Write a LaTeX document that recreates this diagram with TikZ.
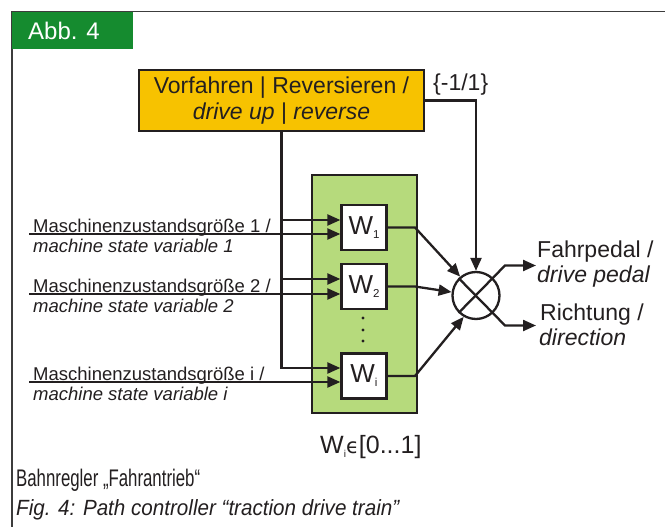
\documentclass[tikz,border=0pt]{standalone}
\usepackage{fontspec}
\setmainfont{Liberation Sans}
\newfontfamily\djv{DejaVu Sans}
\usetikzlibrary{arrows.meta}
\definecolor{abbgreen}{RGB}{21,139,47}
\definecolor{boxorange}{RGB}{247,194,0}
\definecolor{boxgreen}{RGB}{182,218,124}
\definecolor{ink}{RGB}{35,31,32}
\definecolor{framegray}{RGB}{60,60,60}
\newcommand{\fsz}[1]{\fontsize{#1}{#1}\selectfont}
\begin{document}
\begin{tikzpicture}[x=1pt,y=-1pt,
  conn/.style={draw=ink, line width=2.3pt},
  arr/.style={conn, -{Triangle[length=13pt,width=11pt]}},
  wbox/.style={draw=ink, fill=white, line width=2.3pt, minimum width=45pt, minimum height=45pt, inner sep=0pt, font=\fsz{26}, text=ink},
  lbl/.style={anchor=base west, inner sep=0pt, font=\fsz{18.5}, text=ink},
  outlbl/.style={anchor=base west, inner sep=0pt, font=\fsz{23}, text=ink},
  captxt/.style={anchor=base west, inner sep=0pt, text=ink},
]
\useasboundingbox (0,0) rectangle (665,527);
\fill[white] (0,0) rectangle (665,527);
% frame
\draw[framegray, line width=1.3pt] (12,527) -- (12,11.7) -- (665,11.7);
\fill[abbgreen] (12,11.7) rectangle (133,49);
\node[anchor=base west, inner sep=0pt, font=\fsz{24}, text=white] (abb) at (28,40) {Abb. 4};

% direction box
\node[draw=ink, fill=boxorange, line width=2.3pt, minimum width=285pt, minimum height=61pt,
      align=center, inner sep=0pt, font=\fontsize{23}{26}\selectfont, text=ink] (dir) at (281.5,100.5)
      {Vorfahren | Reversieren /\\ \textit{drive up} | \textit{reverse}};
\node[anchor=base west, inner sep=0pt, font=\fsz{23}, text=ink] (sgn) at (433,91) {\{-1/1\}};

% weight block
\node[draw=ink, fill=boxgreen, line width=2.3pt, minimum width=105pt, minimum height=238pt, inner sep=0pt] (gbox) at (364.5,294) {};
\node[wbox] (w1) at (364,227.5) {\raisebox{2pt}{W}\raisebox{-2pt}{\fsz{11.5}1}};
\node[wbox] (w2) at (364,286.5) {\raisebox{2pt}{W}\raisebox{-2pt}{\fsz{11.5}2}};
\node[wbox] (wi) at (364,376) {\raisebox{2pt}{W}\raisebox{-2pt}{\fsz{11.5}i}};
\foreach \yy in {318,330,341} \fill[ink] (363,\yy) circle (1.6pt);

% summing junction
\node[circle, draw=ink, line width=2.3pt, minimum size=47pt, inner sep=0pt] (sum) at (476,295.5) {};

% inputs
\coordinate (in1) at (29,234);
\coordinate (in2) at (29,294);
\coordinate (ini) at (29,382);
\draw[arr] (in1) -- (in1 -| w1.west);
\draw[arr] (in2) -- (in2 -| w2.west);
\draw[arr] (ini) -- (ini -| wi.west);
\node[lbl] (l1a) at (33,232) {Maschinenzustandsgröße 1 /};
\node[lbl] (l1b) at (33,252) {\itshape machine state variable 1};
\node[lbl] (l2a) at (33,292) {Maschinenzustandsgröße 2 /};
\node[lbl] (l2b) at (33,312) {\itshape machine state variable 2};
\node[lbl] (lia) at (33,380) {Maschinenzustandsgröße i /};
\node[lbl] (lib) at (33,400) {\itshape machine state variable i};

% direction branches
\coordinate (corner) at (281.5,368);
\coordinate (b1) at (281.5,220);
\coordinate (b2) at (281.5,279);
\draw[arr] (dir.south) -- (corner) -- (corner -| wi.west);
\draw[arr] (b1) -- (b1 -| w1.west);
\draw[arr] (b2) -- (b2 -| w2.west);
\draw[arr] (dir.east) -- (dir.east -| sum.north) -- (sum.north);

% weight outputs
\coordinate (m1) at (415,227.5);
\coordinate (m2) at (415,286.5);
\coordinate (mi) at (415,376);
\draw[arr] (w1.east) -- (m1) -- (sum.130);
\draw[arr] (w2.east) -- (m2) -- (sum.172);
\draw[arr] (wi.east) -- (mi) -- (sum.240);

% outputs
\coordinate (o1) at (505,265.5);
\coordinate (t1) at (536,265.5);
\coordinate (o2) at (505,325.5);
\coordinate (t2) at (536,325.5);
\draw[arr] (sum.225) -- (o1) -- (t1);
\draw[arr] (sum.135) -- (o2) -- (t2);
\node[outlbl] (fa) at (537,257) {Fahrpedal /};
\node[outlbl] (fb) at (537,282) {\itshape drive pedal};
\node[outlbl] (ra) at (540,320) {Richtung /};
\node[outlbl] (rb) at (539,345) {\itshape direction};

% range
\node[anchor=base west, inner sep=0pt, font=\fsz{25}, text=ink] (range) at (320,453) {W\raisebox{-4pt}{\fsz{10}i}{\djv\fsz{21}ϵ}[0...1]};

% caption
\node[captxt, font=\fsz{24}] (cap1) at (16,486) {\scalebox{0.7}[1]{Bahnregler „Fahrantrieb“}};
\node[captxt, font=\fsz{22}] (cap2) at (16,515) {\scalebox{0.937}[1]{\itshape Fig. 4: Path controller “traction drive train”}};
\end{tikzpicture}
\end{document}
